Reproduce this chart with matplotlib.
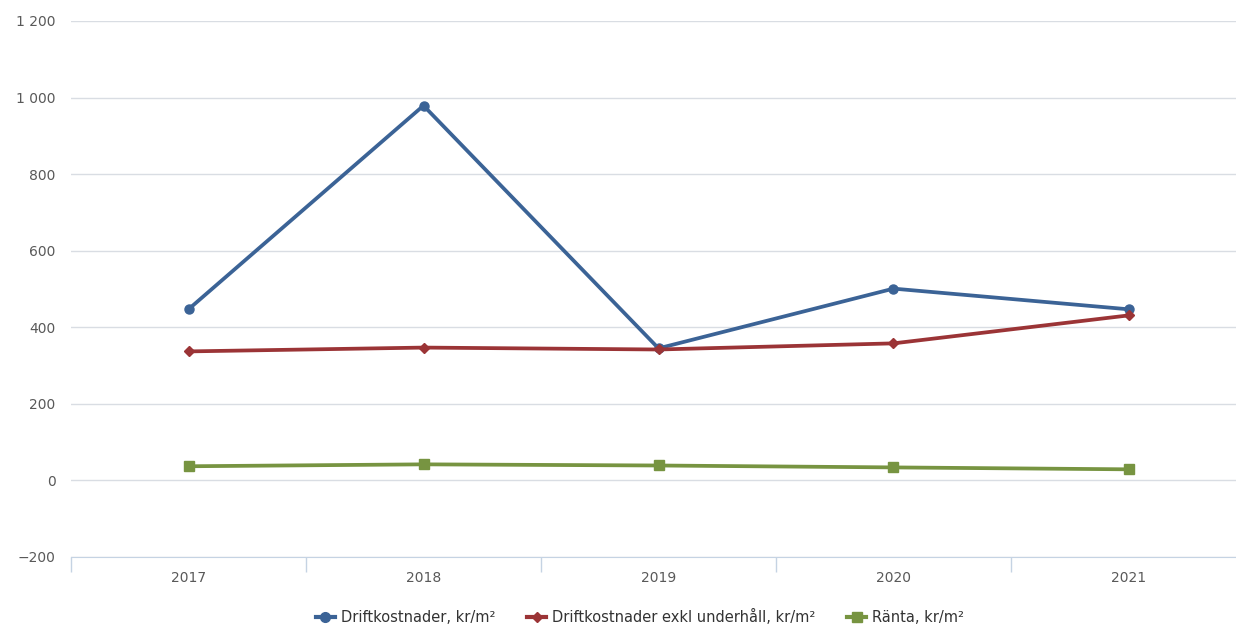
import numpy as np
import matplotlib.pyplot as plt
from matplotlib.lines import Line2D

# data
years = ['2017', '2018', '2019', '2020', '2021']
drift = [447, 979, 345, 501, 447]
drift_exkl = [337, 347, 342, 358, 431]
ranta = [37, 42, 39, 34, 29]

blue = '#3b6396'
red = '#9b3436'
green = '#779441'

fig = plt.figure(figsize=(12.36, 6.25), dpi=100)
ax = fig.add_axes([71 / 1236, 68 / 625, 1175 / 1236, 536 / 625])

x = np.arange(len(years))
ax.plot(x, drift, color=blue, lw=2.7, marker='o', ms=6.5, zorder=3)
ax.plot(x, drift_exkl, color=red, lw=2.7, marker='D', ms=5, zorder=3)
ax.plot(x, ranta, color=green, lw=2.7, marker='s', ms=6.5, zorder=3)

ax.set_xlim(-0.5, len(years) - 0.5)
ax.set_ylim(-200, 1200)
ax.set_yticks(np.arange(-200, 1201, 200))
ax.set_yticklabels([f'{v:,}'.replace(',', ' ').replace('-', '\u2212') for v in range(-200, 1201, 200)])
ax.grid(axis='y', color='#d9dde3', lw=1)
ax.set_axisbelow(True)

ax.set_xticks(x)
ax.set_xticklabels(years)
ax.set_xticks(np.arange(-0.5, len(years)), minor=True)
ax.tick_params(axis='x', which='major', length=0, pad=10)
ax.tick_params(axis='x', which='minor', length=11, color='#c5d3e3', width=1)
ax.tick_params(axis='y', length=0, pad=11)
ax.tick_params(colors='#595959', labelsize=10)

for s in ['top', 'right', 'left']:
    ax.spines[s].set_visible(False)
ax.spines['bottom'].set_color('#c5d3e3')

handles = [
    Line2D([], [], color=blue, lw=3, marker='o', ms=7),
    Line2D([], [], color=red, lw=3, marker='D', ms=5),
    Line2D([], [], color=green, lw=3, marker='s', ms=7),
]
labels = ['Driftkostnader, kr/m²', 'Driftkostnader exkl underhåll, kr/m²', 'Ränta, kr/m²']
fig.legend(handles, labels, loc='center', bbox_to_anchor=(640 / 1236, 1 - 617 / 625),
           ncol=3, frameon=False, fontsize=10.5, handlelength=1.3, handletextpad=0.4,
           columnspacing=2.2, labelcolor='#333333')

plt.savefig('out.png', dpi=100)
